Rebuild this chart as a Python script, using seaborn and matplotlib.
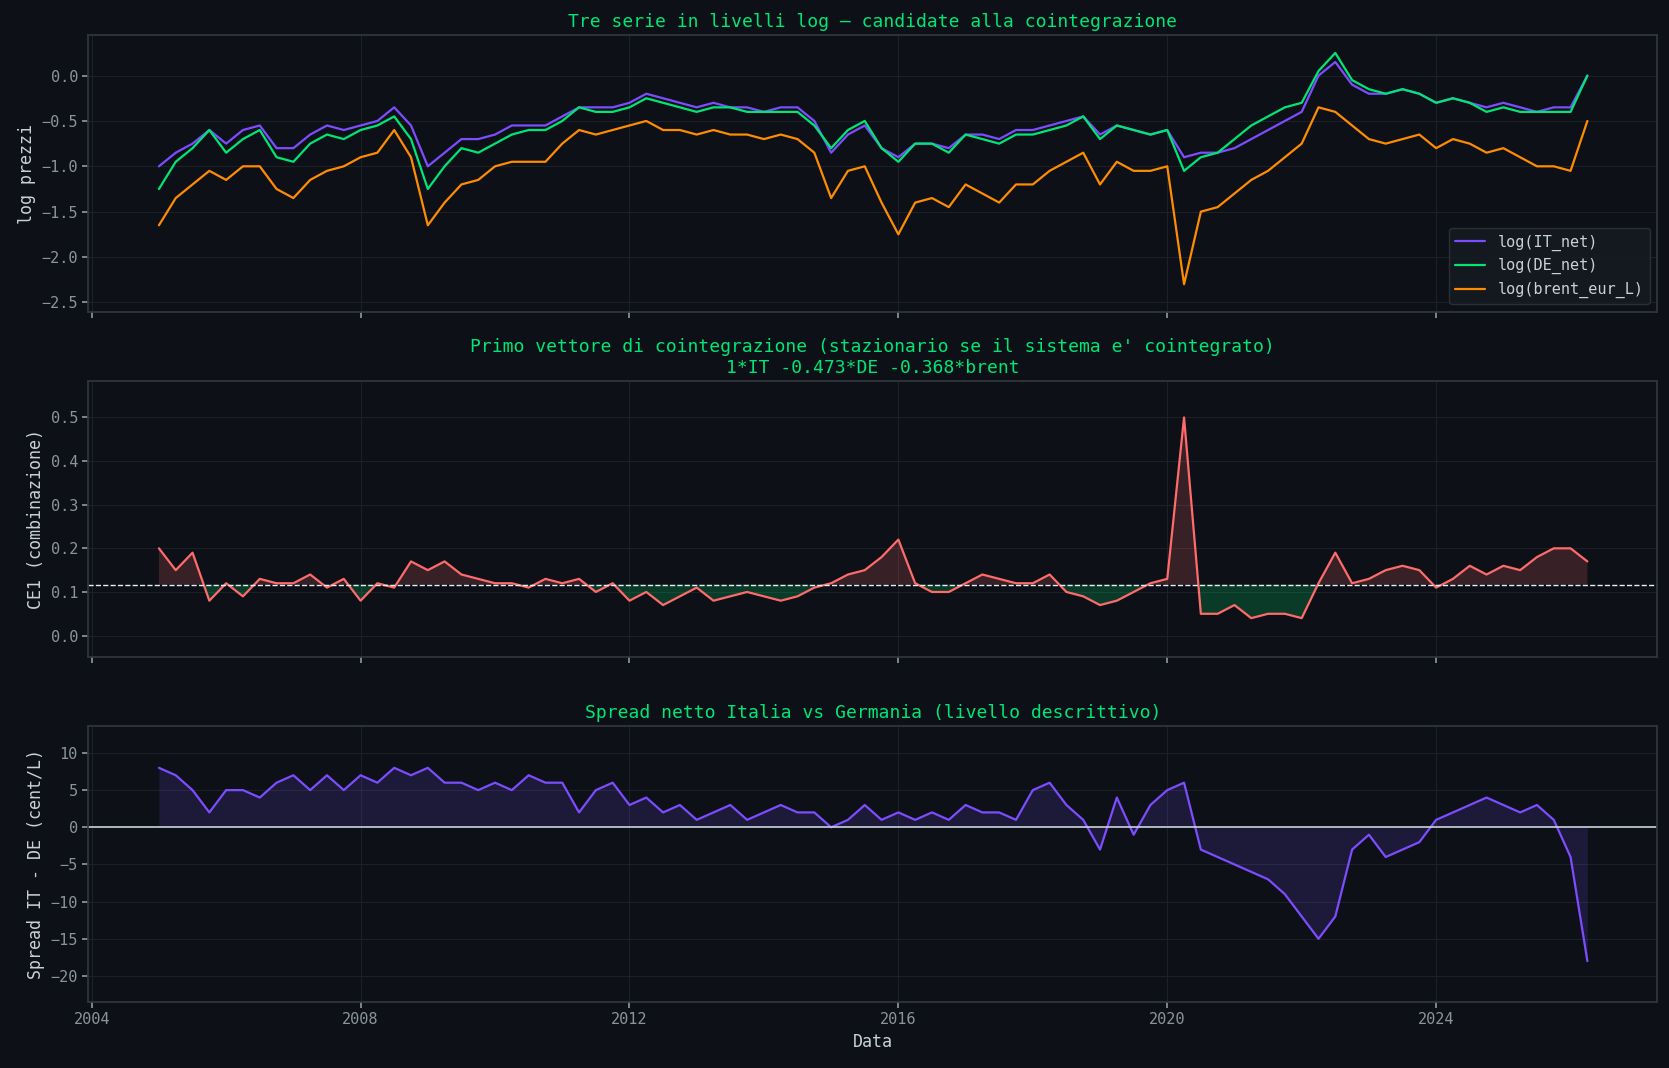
import numpy as np
import pandas as pd
import matplotlib
matplotlib.use("Agg")
import matplotlib.pyplot as plt
import seaborn as sns

years = [2005 + 0.25 * i for i in range(86)]
log_it = [-1.0,-0.85,-0.75,-0.6,-0.75,-0.6,-0.55,-0.8,-0.8,-0.65,-0.55,-0.6,-0.55,-0.5,-0.35,-0.55,
          -1.0,-0.85,-0.7,-0.7,-0.65,-0.55,-0.55,-0.55,-0.45,-0.35,-0.35,-0.35,-0.3,-0.2,-0.25,-0.3,
          -0.35,-0.3,-0.35,-0.35,-0.4,-0.35,-0.35,-0.5,-0.85,-0.65,-0.55,-0.8,-0.9,-0.75,-0.75,-0.8,
          -0.65,-0.65,-0.7,-0.6,-0.6,-0.55,-0.5,-0.45,-0.65,-0.55,-0.6,-0.65,-0.6,-0.9,-0.85,-0.85,
          -0.8,-0.7,-0.6,-0.5,-0.4,0.0,0.15,-0.1,-0.2,-0.2,-0.15,-0.2,-0.3,-0.25,-0.3,-0.35,
          -0.3,-0.35,-0.4,-0.35,-0.35,0.0]
log_de = [-1.25,-0.95,-0.8,-0.6,-0.85,-0.7,-0.6,-0.9,-0.95,-0.75,-0.65,-0.7,-0.6,-0.55,-0.45,-0.7,
          -1.25,-1.0,-0.8,-0.85,-0.75,-0.65,-0.6,-0.6,-0.5,-0.35,-0.4,-0.4,-0.35,-0.25,-0.3,-0.35,
          -0.4,-0.35,-0.35,-0.4,-0.4,-0.4,-0.4,-0.55,-0.8,-0.6,-0.5,-0.8,-0.95,-0.75,-0.75,-0.85,
          -0.65,-0.7,-0.75,-0.65,-0.65,-0.6,-0.55,-0.45,-0.7,-0.55,-0.6,-0.65,-0.6,-1.05,-0.9,-0.85,
          -0.7,-0.55,-0.45,-0.35,-0.3,0.05,0.25,-0.05,-0.15,-0.2,-0.15,-0.2,-0.3,-0.25,-0.3,-0.4,
          -0.35,-0.4,-0.4,-0.4,-0.4,0.0]
log_brent = [-1.65,-1.35,-1.2,-1.05,-1.15,-1.0,-1.0,-1.25,-1.35,-1.15,-1.05,-1.0,-0.9,-0.85,-0.6,-0.9,
             -1.65,-1.4,-1.2,-1.15,-1.0,-0.95,-0.95,-0.95,-0.75,-0.6,-0.65,-0.6,-0.55,-0.5,-0.6,-0.6,
             -0.65,-0.6,-0.65,-0.65,-0.7,-0.65,-0.7,-0.85,-1.35,-1.05,-1.0,-1.4,-1.75,-1.4,-1.35,-1.45,
             -1.2,-1.3,-1.4,-1.2,-1.2,-1.05,-0.95,-0.85,-1.2,-0.95,-1.05,-1.05,-1.0,-2.3,-1.5,-1.45,
             -1.3,-1.15,-1.05,-0.9,-0.75,-0.35,-0.4,-0.55,-0.7,-0.75,-0.7,-0.65,-0.8,-0.7,-0.75,-0.85,
             -0.8,-0.9,-1.0,-1.0,-1.05,-0.5]
ce1 = [0.20,0.15,0.19,0.08,0.12,0.09,0.13,0.12,0.12,0.14,0.11,0.13,0.08,0.12,0.11,0.17,
       0.15,0.17,0.14,0.13,0.12,0.12,0.11,0.13,0.12,0.13,0.10,0.12,0.08,0.10,0.07,0.09,
       0.11,0.08,0.09,0.10,0.09,0.08,0.09,0.11,0.12,0.14,0.15,0.18,0.22,0.12,0.10,0.10,
       0.12,0.14,0.13,0.12,0.12,0.14,0.10,0.09,0.07,0.08,0.10,0.12,0.13,0.50,0.05,0.05,
       0.07,0.04,0.05,0.05,0.04,0.12,0.19,0.12,0.13,0.15,0.16,0.15,0.11,0.13,0.16,0.14,
       0.16,0.15,0.18,0.20,0.20,0.17]
spread = [8,7,5,2,5,5,4,6,7,5,7,5,7,6,8,7,
          8,6,6,5,6,5,7,6,6,2,5,6,3,4,2,3,
          1,2,3,1,2,3,2,2,0,1,3,1,2,1,2,1,
          3,2,2,1,5,6,3,1,-3,4,-1,3,5,6,-3,-4,
          -5,-6,-7,-9,-12,-15,-12,-3,-1,-4,-3,-2,1,2,3,4,
          3,2,3,1,-4,-18]

BG = "#0d1117"
TXT = "#c9d1d9"
TICK = "#8b949e"
GREEN = "#00e676"
sns.set_theme(style="dark")
plt.rcParams.update({
    "figure.facecolor": BG, "axes.facecolor": BG, "axes.edgecolor": "#30363d",
    "axes.labelcolor": TXT, "xtick.color": TICK, "ytick.color": TICK,
    "grid.color": "#1c2128", "text.color": TXT,
})
plt.rcParams["font.family"] = ["DejaVu Sans Mono", "DejaVu Sans"]

df = pd.DataFrame({"year": years, "IT": log_it, "DE": log_de, "brent": log_brent,
                   "ce1": ce1, "spread": spread})

fig = plt.figure(figsize=(16.69, 10.68), dpi=100)
W, H = 1568, 1003
def mk(y0, y1):
    return fig.add_axes([83 / W, 1 - y1 / H, (1557 - 83) / W, (y1 - y0) / H])
ax1 = mk(33, 293); ax2 = mk(358, 617); ax3 = mk(682, 941)

for ax in (ax1, ax2, ax3):
    ax.set_xlim(2003.95, 2027.29)
    ax.set_xticks([2004, 2008, 2012, 2016, 2020, 2024])
    ax.grid(True, color="#1c2128", linewidth=0.8)
    ax.tick_params(labelsize=11, length=4, left=True, bottom=True)
    for s in ax.spines.values():
        s.set_color("#30363d")

sns.lineplot(data=df, x="year", y="IT", ax=ax1, color="#7c4dff", lw=1.6, label="log(IT_net)")
sns.lineplot(data=df, x="year", y="DE", ax=ax1, color=GREEN, lw=1.6, label="log(DE_net)")
sns.lineplot(data=df, x="year", y="brent", ax=ax1, color="#ff8c00", lw=1.6, label="log(brent_eur_L)")
ax1.set_ylim(-2.606, 0.446)
ax1.set_yticks([0.0, -0.5, -1.0, -1.5, -2.0, -2.5])
ax1.set_ylabel("log prezzi", fontsize=12)
ax1.set_xlabel("")
ax1.set_xticklabels([])
ax1.set_title("Tre serie in livelli log — candidate alla cointegrazione", color=GREEN, fontsize=13, pad=6)
leg = ax1.legend(loc="lower right", fontsize=11, facecolor="#161b22", edgecolor="#30363d")
for t in leg.get_texts():
    t.set_color(TXT)

mean = 0.117
sns.lineplot(data=df, x="year", y="ce1", ax=ax2, color="#ff6b6b", lw=1.6)
c = np.array(ce1); yy = np.array(years)
ax2.fill_between(yy, c, mean, where=c >= mean, color="#ff6b6b", alpha=0.18, interpolate=True, lw=0)
ax2.fill_between(yy, c, mean, where=c < mean, color=GREEN, alpha=0.2, interpolate=True, lw=0)
ax2.axhline(mean, color="#e6edf3", ls="--", lw=1)
ax2.set_ylim(-0.049, 0.583)
ax2.set_yticks([0.0, 0.1, 0.2, 0.3, 0.4, 0.5])
ax2.set_ylabel("CE1 (combinazione)", fontsize=12)
ax2.set_xlabel("")
ax2.set_xticklabels([])
ax2.set_title("Primo vettore di cointegrazione (stazionario se il sistema e' cointegrato)\n1*IT -0.473*DE -0.368*brent",
              color=GREEN, fontsize=13, pad=6)

sns.lineplot(data=df, x="year", y="spread", ax=ax3, color="#7c4dff", lw=1.6)
ax3.fill_between(yy, np.array(spread), 0, color="#7c4dff", alpha=0.15, lw=0)
ax3.axhline(0, color="#c9d1d9", lw=1.2)
ax3.set_ylim(-23.5, 13.6)
ax3.set_yticks([10, 5, 0, -5, -10, -15, -20])
ax3.set_ylabel("Spread IT - DE (cent/L)", fontsize=12)
ax3.set_xlabel("Data", fontsize=12)
ax3.set_title("Spread netto Italia vs Germania (livello descrittivo)", color=GREEN, fontsize=13, pad=6)

fig.savefig("out.png", dpi=100, facecolor=BG)
